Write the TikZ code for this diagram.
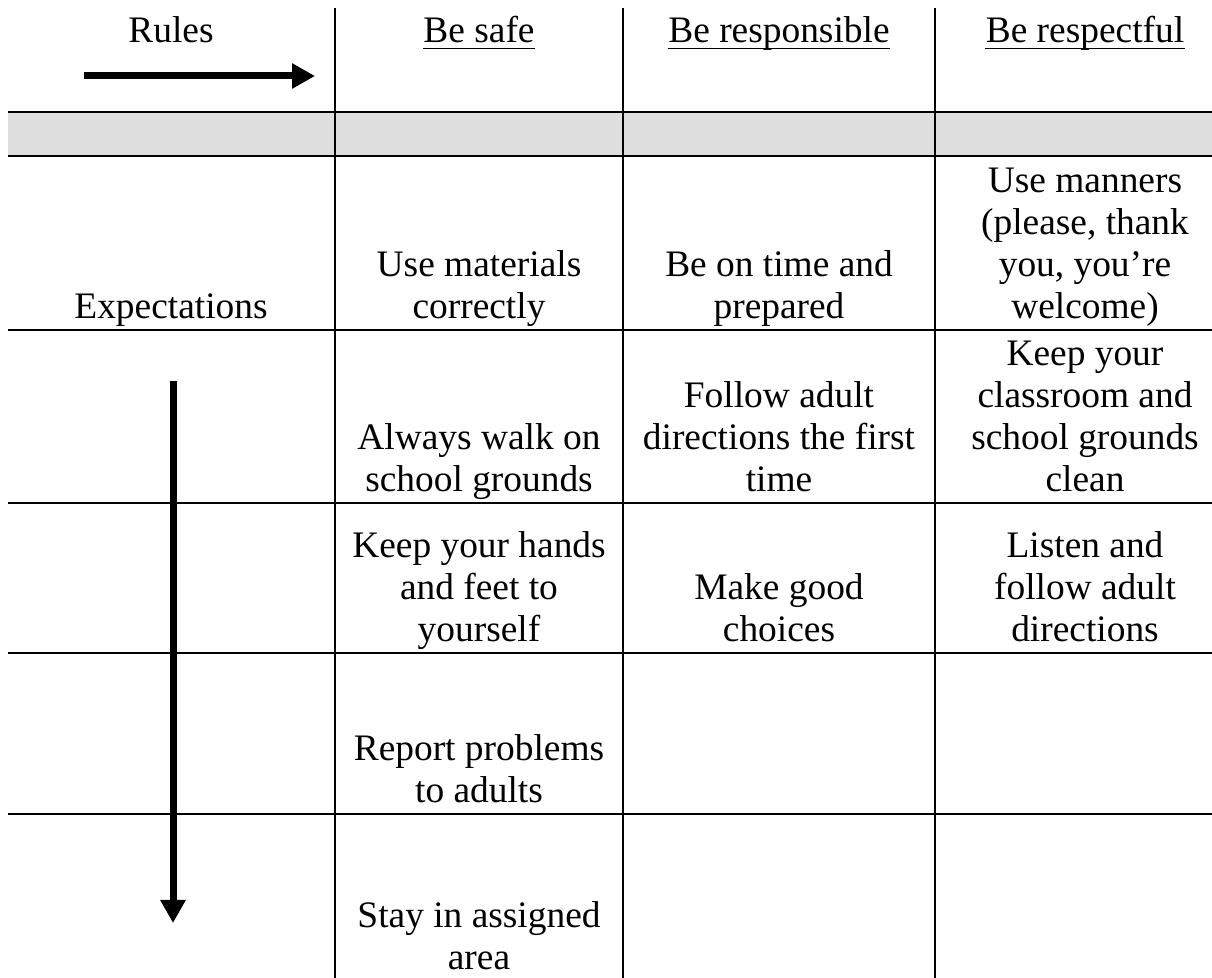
\documentclass[tikz,border=0pt]{standalone}
\usepackage{fontspec}
\setmainfont{Liberation Serif}
\usetikzlibrary{arrows.meta}
\definecolor{bandgray}{RGB}{222,222,222}
\newcommand\celltext[1]{\begin{tabular}[b]{@{}c@{}}#1\end{tabular}}
\begin{document}
\begin{tikzpicture}[x=0.5pt,y=-0.5pt,
  gridline/.style={line width=1pt, black},
  celltxt/.style={anchor=base, inner sep=0pt, font=\fontsize{18.7}{21}\selectfont},
  underl/.style={line width=0.9pt, black},
  bigarrow/.style={line width=3.5pt, -{Triangle[length=11.5pt,width=12pt]}}]
\useasboundingbox (0,0) rectangle (1212,978);
% gray band
\fill[bandgray] (8,112) rectangle (1212,156);
% grid
\foreach \yy in {112,156,330,503,653,814} \draw[gridline] (8,\yy) -- (1212,\yy);
\foreach \xx in {335,623,935} \draw[gridline] (\xx,8) -- (\xx,978);
% headers
\node[celltxt] (rules) at (171,43) {Rules};
\node[celltxt] (safe) at (479,43) {Be safe};
\node[celltxt] (resp) at (779,43) {Be responsible};
\node[celltxt] (rspf) at (1085,43) {Be respectful};
\foreach \n in {safe,resp,rspf}
  \draw[underl] ([yshift=-2.75pt]\n.base west) -- ([yshift=-2.75pt]\n.base east);
% row 1
\node[celltxt] (exp) at (171,318.5) {Expectations};
\node[celltxt] (c11) at (479,318.5) {\celltext{Use materials\\correctly}};
\node[celltxt] (c12) at (779,318.5) {\celltext{Be on time and\\prepared}};
\node[celltxt] (c13) at (1085,318.5) {\celltext{Use manners\\(please, thank\\you, you’re\\welcome)}};
% row 2
\node[celltxt] (c21) at (479,491.5) {\celltext{Always walk on\\school grounds}};
\node[celltxt] (c22) at (779,491.5) {\celltext{Follow adult\\directions the first\\time}};
\node[celltxt] (c23) at (1085,491.5) {\celltext{Keep your\\classroom and\\school grounds\\clean}};
% row 3
\node[celltxt] (c31) at (479,641.5) {\celltext{Keep your hands\\and feet to\\yourself}};
\node[celltxt] (c32) at (779,641.5) {\celltext{Make good\\choices}};
\node[celltxt] (c33) at (1085,641.5) {\celltext{Listen and\\follow adult\\directions}};
% row 4
\node[celltxt] (c41) at (479,802.5) {\celltext{Report problems\\to adults}};
% row 5
\node[celltxt] (c51) at (479,970) {\celltext{Stay in assigned\\area}};
% arrows
\coordinate (ha0) at (84,76);
\coordinate (ha1) at (315,76);
\draw[bigarrow] (ha0) -- (ha1);
\coordinate (va0) at (173,381);
\coordinate (va1) at (173,923);
\draw[bigarrow] (va0) -- (va1);
\end{tikzpicture}
\end{document}
